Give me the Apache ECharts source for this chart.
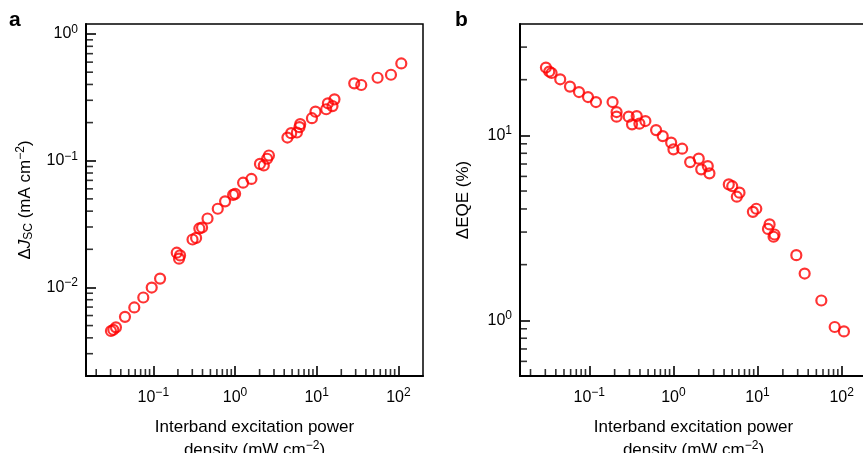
<!DOCTYPE html>
<html>
<head>
<meta charset="utf-8">
<script src="https://cdn.jsdelivr.net/npm/echarts@6/dist/echarts.min.js"></script>
<style>
  html, body { margin: 0; padding: 0; background: #fff; }
  #main { width: 863px; height: 453px; }
</style>
</head>
<body>
<div id="main"></div>
<script>
// panel a: excitation power density (mW cm-2) vs delta Jsc (mA cm-2)
const powerA = [0.0303, 0.0324, 0.0349, 0.045, 0.0585, 0.0754, 0.0956, 0.121, 0.1935, 0.2065,
  0.2125, 0.302, 0.334, 0.366, 0.395, 0.461, 0.615, 0.756, 0.948, 1.003,
  1.256, 1.588, 2.02, 2.25, 2.47, 2.60, 4.38, 4.87, 5.72, 6.15,
  6.28, 8.74, 9.66, 13.07, 13.7, 15.6, 16.5, 28.8, 35.1, 55.6, 81.1, 108.5];
const djsc = [0.00453, 0.00463, 0.00484, 0.00586, 0.00695, 0.00833, 0.00998, 0.01175, 0.0188, 0.01687,
  0.0179, 0.0239, 0.0246, 0.0292, 0.0297, 0.035, 0.0418, 0.0478, 0.0538, 0.0548,
  0.0671, 0.0718, 0.0944, 0.0918, 0.1037, 0.110, 0.1524, 0.165, 0.167, 0.184,
  0.1943, 0.2166, 0.244, 0.255, 0.284, 0.270, 0.305, 0.408, 0.396, 0.452, 0.477, 0.586];

// panel b: excitation power density vs delta EQE (%)
const powerB = [0.0305, 0.0334, 0.0356, 0.0451, 0.0589, 0.0754, 0.0965, 0.120, 0.189, 0.211,
  0.211, 0.294, 0.322, 0.366, 0.394, 0.464, 0.622, 0.746, 0.94, 1.0,
  1.27, 1.58, 2.0, 2.14, 2.56, 2.68, 4.55, 5.0, 5.67, 6.1,
  8.8, 9.66, 13.3, 13.9, 15.9, 15.5, 28.9, 36.3, 57.3, 82.6, 106.4];
const deqe = [23.26, 22.13, 21.74, 20.1, 18.35, 17.15, 16.11, 15.14, 15.14, 13.37,
  12.62, 12.62, 11.47, 12.72, 11.57, 11.95, 10.68, 9.91, 9.13, 8.40,
  8.47, 7.17, 7.48, 6.55, 6.82, 6.23, 5.43, 5.31, 4.66, 4.90,
  3.86, 4.01, 3.12, 3.30, 2.91, 2.83, 2.25, 1.79, 1.28, 0.92, 0.871];

// axis ranges and minor tick positions
const xRange = [0.015, 200];
const yRangeA = [0.002, 1.2];
const yRangeB = [0.5, 40];
const minorX = [0.02, 0.03, 0.04, 0.05, 0.06, 0.07, 0.08, 0.09,
  0.2, 0.3, 0.4, 0.5, 0.6, 0.7, 0.8, 0.9,
  2, 3, 4, 5, 6, 7, 8, 9,
  20, 30, 40, 50, 60, 70, 80, 90];
const minorYA = [0.003, 0.004, 0.005, 0.006, 0.007, 0.008, 0.009,
  0.02, 0.03, 0.04, 0.05, 0.06, 0.07, 0.08, 0.09,
  0.2, 0.3, 0.4, 0.5, 0.6, 0.7, 0.8, 0.9];
const minorYB = [0.6, 0.7, 0.8, 0.9, 2, 3, 4, 5, 6, 7, 8, 9, 20, 30];

const font = '"Liberation Sans", Arial, Helvetica, sans-serif';

let chart = echarts.init(document.getElementById('main'));

function powLabel(value) {
  let e = Math.log10(value);
  let r = Math.round(e);
  if (Math.abs(e - r) > 1e-6) return '';
  return '{b|10}{s|' + (r < 0 ? '\u2212' + (-r) : r) + '}';
}

const tickRich = {
  b: { fontSize: 16, fontFamily: font, color: '#000' },
  s: { fontSize: 12, fontFamily: font, color: '#000', padding: [0, 0, 9, 0] }
};
const nameRich = {
  n: { fontSize: 17, fontFamily: font, color: '#000' },
  i: { fontSize: 17, fontFamily: font, color: '#000', fontStyle: 'italic' },
  sub: { fontSize: 12, fontFamily: font, color: '#000', padding: [7, 0, 0, 0] },
  sup: { fontSize: 12, fontFamily: font, color: '#000', padding: [0, 0, 9, 0] }
};

function xAxisCfg(grid) {
  return {
    type: 'log',
    gridIndex: grid,
    min: xRange[0],
    max: xRange[1],
    logBase: 10,
    name: '{n|Interband excitation power}\n{n|density (mW cm}{sup|\u22122}{n|)}',
    nameLocation: 'middle',
    nameGap: 40,
    nameTextStyle: { rich: nameRich, lineHeight: 23, fontSize: 17, fontFamily: font },
    axisLine: { lineStyle: { color: '#000', width: 2 } },
    axisTick: { inside: true, length: 10, lineStyle: { color: '#000', width: 1.6 } },
    axisLabel: { formatter: powLabel, rich: tickRich, margin: 11, showMinLabel: false, showMaxLabel: false },
    splitLine: { show: false },
    minorTick: { show: false }
  };
}

function yAxisCfg(grid, range, name, gap) {
  return {
    type: 'log',
    gridIndex: grid,
    min: range[0],
    max: range[1],
    logBase: 10,
    name: name,
    nameLocation: 'middle',
    nameRotate: 90,
    nameGap: gap,
    nameTextStyle: { rich: nameRich, fontSize: 17, fontFamily: font },
    axisLine: { lineStyle: { color: '#000', width: 2 } },
    axisTick: { inside: true, length: 10, lineStyle: { color: '#000', width: 1.6 } },
    axisLabel: { formatter: powLabel, rich: tickRich, margin: 8, showMinLabel: false, showMaxLabel: false },
    splitLine: { show: false }
  };
}

function pointSeries(grid, xs, ys) {
  return {
    type: 'scatter',
    xAxisIndex: grid,
    yAxisIndex: grid,
    data: xs.map((x, i) => [x, ys[i]]),
    symbol: 'circle',
    symbolSize: 10,
    itemStyle: { color: 'transparent', borderColor: '#ff0000', borderWidth: 2.2 },
    z: 5
  };
}

// short tick marks drawn on the axes for 2..9 x 10^n
function minorSeries(grid, horiz, vals, fixed) {
  return {
    type: 'scatter',
    xAxisIndex: grid,
    yAxisIndex: grid,
    silent: true,
    clip: false,
    data: vals.map(v => horiz ? [v, fixed] : [fixed, v]),
    symbol: 'rect',
    symbolSize: horiz ? [1.6, 7] : [7, 1.6],
    symbolOffset: horiz ? [0, -3.5] : [3.5, 0],
    itemStyle: { color: '#000' },
    z: 3
  };
}

let option = {
  animation: false,
  backgroundColor: '#fff',
  grid: [
    { left: 86, top: 24, width: 337, height: 352, containLabel: false, outerBoundsMode: 'none',
      show: true, borderColor: '#000', borderWidth: 1.5 },
    { left: 520, top: 24, width: 347, height: 352, containLabel: false, outerBoundsMode: 'none',
      show: true, borderColor: '#000', borderWidth: 1.5 }
  ],
  xAxis: [xAxisCfg(0), xAxisCfg(1)],
  yAxis: [
    yAxisCfg(0, yRangeA, '{n|\u0394}{i|J}{sub|SC}{n| (mA cm}{sup|\u22122}{n|)}', 50),
    yAxisCfg(1, yRangeB, '{n|\u0394EQE (%)}', 48)
  ],
  graphic: [
    { type: 'text', left: 9, top: 10, style: { text: 'a', font: 'bold 21px ' + font, fill: '#000' } },
    { type: 'text', left: 455, top: 10, style: { text: 'b', font: 'bold 21px ' + font, fill: '#000' } }
  ],
  series: [
    minorSeries(0, true, minorX, yRangeA[0]),
    minorSeries(0, false, minorYA, xRange[0]),
    minorSeries(1, true, minorX, yRangeB[0]),
    minorSeries(1, false, minorYB, xRange[0]),
    pointSeries(0, powerA, djsc),
    pointSeries(1, powerB, deqe)
  ]
};

option && chart.setOption(option);
</script>
</body>
</html>
